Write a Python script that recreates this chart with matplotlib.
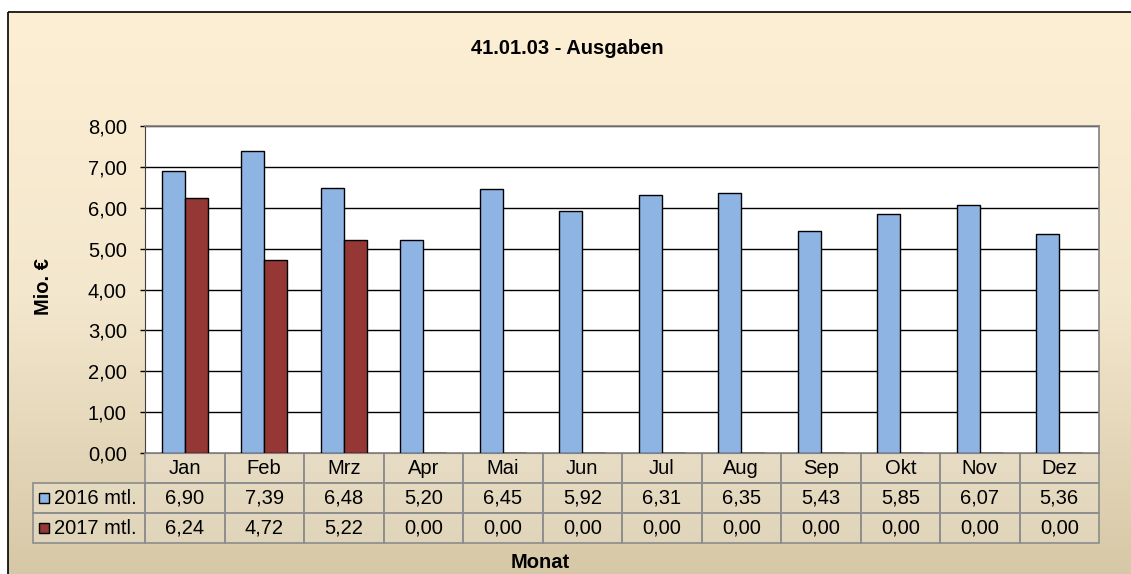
import numpy as np
import matplotlib.pyplot as plt
import matplotlib.transforms as mtransforms
from matplotlib.patches import Rectangle
from matplotlib.colors import LinearSegmentedColormap

plt.rcParams['font.family'] = ['Liberation Sans', 'DejaVu Sans']

# data
monate = ['Jan', 'Feb', 'Mrz', 'Apr', 'Mai', 'Jun', 'Jul', 'Aug', 'Sep', 'Okt', 'Nov', 'Dez']
werte_2016 = [6.90, 7.39, 6.48, 5.20, 6.45, 5.92, 6.31, 6.35, 5.43, 5.85, 6.07, 5.36]
werte_2017 = [6.24, 4.72, 5.22, 0.00, 0.00, 0.00, 0.00, 0.00, 0.00, 0.00, 0.00, 0.00]
serien = ['2016 mtl.', '2017 mtl.']
farben = ['#8EB4E3', '#953735']

W, H = 1131, 574
fs = 14.5
fig = plt.figure(figsize=(W / 100, H / 100), dpi=100)

# background with gradient + frame
bg = fig.add_axes([0, 0, 1, 1])
bg.axis('off')
cmap = LinearSegmentedColormap.from_list('bg', ['#FDEFD3', '#F3E7CE', '#D6C8A6'])
grad = np.linspace(0, 1, 256).reshape(-1, 1)
bg.imshow(grad, cmap=cmap, aspect='auto', extent=[8, W + 5, H + 5, 12], zorder=0)
bg.add_patch(Rectangle((8, 12), W, H, fill=False, edgecolor='black', lw=1.2, zorder=1))
bg.set_xlim(0, W)
bg.set_ylim(H, 0)

# plot area (pixels)
pl, pt, pr, pb = 145, 126, 1099, 453
ax = fig.add_axes([pl / W, 1 - pb / H, (pr - pl) / W, (pb - pt) / H])
ax.set_facecolor('white')

x = np.arange(len(monate))
bw = 0.29
ax.bar(x - bw / 2, werte_2016, bw, color=farben[0], edgecolor='black', lw=1, zorder=3)
ax.bar(x + bw / 2, werte_2017, bw, color=farben[1], edgecolor='black', lw=1, zorder=3)

ax.set_xlim(-0.5, 11.5)
ax.set_ylim(0, 8)
ax.set_yticks(np.arange(0, 9, 1))
ax.set_yticklabels([f'{v:.2f}'.replace('.', ',') for v in np.arange(0, 9, 1)], fontsize=fs)
ax.tick_params(axis='y', direction='out', length=3.6, width=1, color='black', pad=9.5)
ax.set_xticks([])
ax.grid(axis='y', color='black', lw=1, zorder=1)
ax.set_axisbelow(True)
for s in ['top', 'right']:
    ax.spines[s].set_color('#808080')
    ax.spines[s].set_linewidth(1.2)
ax.spines['left'].set_color('#404040')
ax.spines['bottom'].set_color('#808080')

ax.set_ylabel('Mio. €', fontsize=fs, fontweight='bold')
ax.yaxis.set_label_coords((53 - pl) / (pr - pl), 0.5 + 3 / (pb - pt))

# data table below the axes
trans = mtransforms.blended_transform_factory(ax.transData, ax.transAxes)
row_h = 30 / (pb - pt)
unit = (pr - pl) / 12
lab_left = -0.5 - (pl - 33) / unit
gc = '#8C8C8C'
cell_fc = (1, 1, 1, 0.18)

# header row
for i, m in enumerate(monate):
    ax.add_patch(Rectangle((i - 0.5, -row_h), 1, row_h, transform=trans, clip_on=False,
                           facecolor=cell_fc, edgecolor=gc, lw=1.2))
    ax.text(i, -row_h / 2, m, transform=trans, ha='center', va='center', fontsize=fs)

for r, (name, vals, col) in enumerate(zip(serien, [werte_2016, werte_2017], farben)):
    y0 = -row_h * (r + 2)
    ax.add_patch(Rectangle((lab_left, y0), -0.5 - lab_left, row_h, transform=trans, clip_on=False,
                           facecolor=cell_fc, edgecolor=gc, lw=1.2))
    ax.text(lab_left + 21 / unit, y0 + row_h / 2, name, transform=trans, ha='left', va='center',
            fontsize=fs)
    ax.add_patch(Rectangle((lab_left + 6 / unit, y0 + row_h * 0.33), 10 / unit, row_h * 0.33,
                           transform=trans, clip_on=False, facecolor=col, edgecolor='black', lw=1))
    for i, v in enumerate(vals):
        ax.add_patch(Rectangle((i - 0.5, y0), 1, row_h, transform=trans, clip_on=False,
                               facecolor=cell_fc, edgecolor=gc, lw=1.2))
        ax.text(i, y0 + row_h / 2, f'{v:.2f}'.replace('.', ','), transform=trans,
                ha='center', va='center', fontsize=fs)

fig.text(567 / W, 1 - 48 / H, '41.01.03 - Ausgaben', ha='center', va='center',
         fontsize=fs, fontweight='bold')
fig.text(540 / W, 1 - 563 / H, 'Monat', ha='center', va='center',
         fontsize=fs, fontweight='bold')

fig.savefig('out.png', dpi=100)
